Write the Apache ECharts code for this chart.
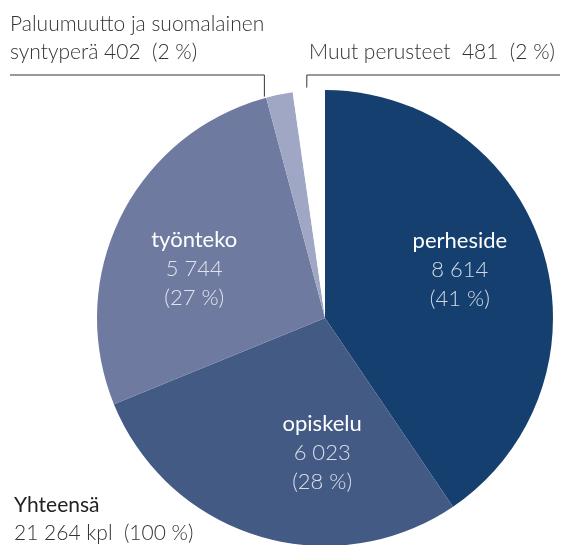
<!DOCTYPE html>
<html>
<head>
<meta charset="utf-8">
<script src="https://cdn.jsdelivr.net/npm/echarts@6/dist/echarts.min.js"></script>
<style>
    html, body { margin: 0; padding: 0; background: #ffffff; }
    #chart { width: 562px; height: 545px; }
</style>
</head>
<body>
<div id="chart"></div>
<script>
var categories = ['perheside', 'opiskelu', 'työnteko', 'Paluumuutto ja suomalainen\nsyntyperä', 'Muut perusteet'];
var values = [8614, 6023, 5744, 402, 481];
var colors = ['#143f6e', '#435a85', '#6e7aa0', '#a0a7c4', '#ffffff'];
var totalLabel = 'Yhteensä';

var total = 0;
for (var i = 0; i < values.length; i++) {
    total += values[i];
}

function fmtNum(n) {
    return String(n).replace(/\B(?=(\d{3})+(?!\d))/g, ' ');
}
function pct(v) {
    return Math.round(v / total * 100);
}

var fontFam = 'Lato, "Open Sans", sans-serif';

/*sisäiset ja ulkoiset tekstit*/
var pieData = [];
for (var i = 0; i < values.length; i++) {
    var item = {
        name: categories[i],
        value: values[i],
        itemStyle: { color: colors[i] }
    };
    if (i < 3) {
        var offs = [[23, -14], [31, 23], [-26, 3]];
        item.label = {
            position: 'inside',
            offset: offs[i],
            formatter: '{n|' + categories[i] + '}\n{v|' + fmtNum(values[i]) + '}\n{v|(' + pct(values[i]) + ' %)}'
        };
        item.labelLine = { show: false };
    } else {
        item.label = {
            position: 'outside',
            color: '#333333',
            fontFamily: fontFam,
            fontSize: 21,
            fontWeight: 300,
            lineHeight: 28,
            padding: i == 4 ? [0, 8, 0, 0] : 0,
            formatter: categories[i] + (i == 3 ? ' ' : '  ') + fmtNum(values[i]) + '  (' + pct(values[i]) + ' %)'
        };
        item.labelLine = { show: true, lineStyle: { color: '#333333', width: 1 } };
    }
    pieData.push(item);
}

var chart = echarts.init(document.getElementById('chart'));

var option = {
    animation: false,
    title: {
        text: totalLabel,
        subtext: fmtNum(total) + ' kpl  (100 %)',
        left: 9,
        top: 490,
        itemGap: 7,
        textStyle: { fontFamily: fontFam, fontSize: 21, fontWeight: 400, color: '#222222' },
        subtextStyle: { fontFamily: fontFam, fontSize: 21, fontWeight: 300, color: '#333333' }
    },
    series: [{
        type: 'pie',
        center: [325, 318],
        radius: 228,
        startAngle: 90,
        clockwise: true,
        silent: true,
        avoidLabelOverlap: false,
        emphasis: { disabled: true },
        label: {
            fontFamily: fontFam,
            rich: {
                n: { color: '#ffffff', fontSize: 22, fontFamily: fontFam, lineHeight: 29 },
                v: { color: 'rgba(255,255,255,0.8)', fontSize: 22, fontWeight: 300, fontFamily: fontFam, lineHeight: 29 }
            }
        },
        labelLayout: function (params) {
            if (params.dataIndex == 3) {
                var p0 = params.labelLinePoints[0];
                var x0 = p0[0] - 15;
                return {
                    x: 10, y: 66, align: 'left', verticalAlign: 'bottom',
                    labelLinePoints: [[x0, p0[1] + 2], [x0, 75], [10, 75]]
                };
            }
            if (params.dataIndex == 4) {
                var p1 = params.labelLinePoints[0];
                return {
                    x: 309, y: 66, align: 'left', verticalAlign: 'bottom',
                    labelLinePoints: [[p1[0] - 2, p1[1] - 3], [p1[0] - 2, 75], [560, 75]]
                };
            }
        },
        data: pieData
    }]
};

chart.setOption(option);
</script>
</body>
</html>
